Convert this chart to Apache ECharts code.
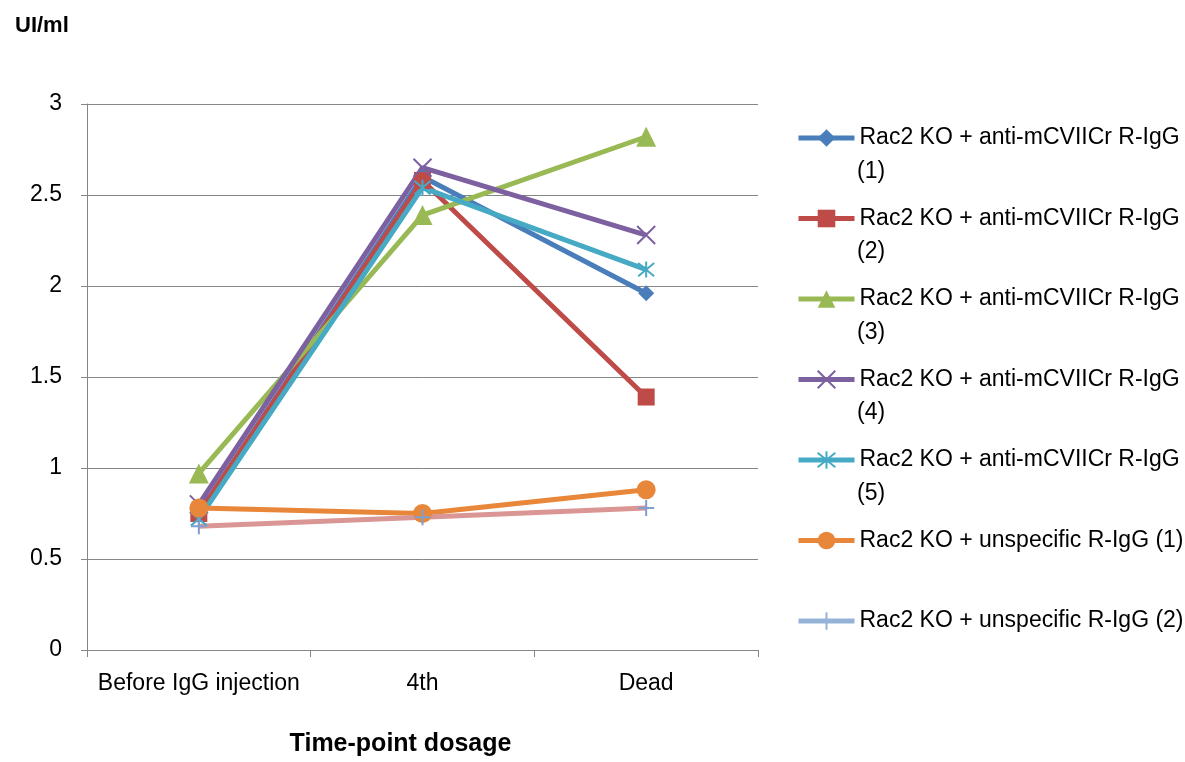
<!DOCTYPE html>
<html><head><meta charset="utf-8">
<script src="https://cdn.jsdelivr.net/npm/echarts@6/dist/echarts.min.js"></script>
<style>html,body{margin:0;padding:0;background:#fff}#c{width:1185px;height:762px}</style>
</head><body><div id="c"></div>
<script>
const categories = ["Before IgG injection", "4th", "Dead"];
const seriesNames = [
  "Rac2 KO + anti-mCVIICr R-IgG (1)",
  "Rac2 KO + anti-mCVIICr R-IgG (2)",
  "Rac2 KO + anti-mCVIICr R-IgG (3)",
  "Rac2 KO + anti-mCVIICr R-IgG (4)",
  "Rac2 KO + anti-mCVIICr R-IgG (5)",
  "Rac2 KO + unspecific R-IgG (1)",
  "Rac2 KO + unspecific R-IgG (2)"
];
const anti1 = [0.75, 2.60, 1.96];
const anti2 = [0.75, 2.58, 1.39];
const anti3 = [0.97, 2.39, 2.82];
const anti4 = [0.80, 2.65, 2.28];
const anti5 = [0.72, 2.54, 2.09];
const unspec1 = [0.78, 0.75, 0.88];
const unspec2 = [0.68, 0.73, 0.78];
const yTicks = [0, 0.5, 1, 1.5, 2, 2.5, 3];

const FONT = "Liberation Sans";
const FS = 23;
const values = [anti1, anti2, anti3, anti4, anti5, unspec1, unspec2];
const colors = ["#4A7EBB", "#BE4B48", "#98B954", "#7D60A0", "#46AAC5", "#E8863A", "#D99694"];
const markerColors = ["#4A7EBB", "#BE4B48", "#98B954", "#7D60A0", "#46AAC5", "#E8863A", "#7F9FD0"];
const symbols = ["diamond", "rect", "triangle",
  "path://M0,0L10,10M10,0L0,10",
  "path://M0,0L10,10M10,0L0,10M5,-1L5,11",
  "circle",
  "path://M5,0L5,10M0,5L10,5"];
const sizes = [16, 17, 20, 18, 16, 19, 16];
const stroked = [false, false, false, true, true, false, true];

const series = values.map((v, i) => ({
  name: seriesNames[i],
  type: 'line',
  data: v,
  symbol: symbols[i],
  symbolSize: sizes[i],
  showSymbol: true,
  lineStyle: { color: colors[i], width: 5 },
  itemStyle: stroked[i]
    ? { color: markerColors[i], borderColor: markerColors[i], borderWidth: 2 }
    : { color: markerColors[i], borderWidth: 0 },
  emphasis: { disabled: true },
  animation: false
}));

const legendData = seriesNames.map((n, i) => i === 6
  ? { name: n, lineStyle: { color: "#95B3D7", width: 5 }, itemStyle: { color: "#95B3D7", borderColor: "#95B3D7" } }
  : { name: n });

// legend layout
const LEG_FIRST = 138, LEG_STEP = 80.5, LEG_LH = 28;
const splitName = n => {
  const m = n.match(/^(.*R-IgG) (\(\d\))$/);
  return (n.indexOf('anti') >= 0 && m) ? [m[1], m[2]] : [n, null];
};
const secondLines = [];
seriesNames.forEach((n, i) => {
  const parts = splitName(n);
  if (parts[1]) {
    secondLines.push({
      type: 'text', left: 857, top: LEG_FIRST + LEG_STEP * i + 33 - 11,
      style: { text: parts[1], font: FS + 'px "' + FONT + '"', fill: '#000' }
    });
  }
});

const chart = echarts.init(document.getElementById('c'));
chart.setOption({
  backgroundColor: '#fff',
  animation: false,
  title: {
    text: 'UI/ml', left: 10, top: 10,
    textStyle: { fontFamily: FONT, fontSize: 22, fontWeight: 'bold', color: '#000' }
  },
  grid: { left: 87, right: 427, top: 104, bottom: 111, containLabel: false },
  xAxis: {
    type: 'category',
    data: categories,
    boundaryGap: true,
    name: 'Time-point dosage',
    nameLocation: 'middle',
    nameGap: 82,
    nameTextStyle: { fontFamily: FONT, fontSize: 25, fontWeight: 'bold', color: '#000', padding: [0, 44, 0, 0] },
    axisLine: { lineStyle: { color: '#868686', width: 1 } },
    axisTick: { show: true, length: 7, interval: 0, alignWithLabel: false, lineStyle: { color: '#868686' } },
    axisLabel: { fontFamily: FONT, fontSize: FS, color: '#000', margin: 22, interval: 0, hideOverlap: false }
  },
  yAxis: {
    type: 'value',
    min: 0, max: 3, interval: 0.5,
    axisLine: { show: true, lineStyle: { color: '#868686', width: 1 } },
    axisTick: { show: true, length: 6, lineStyle: { color: '#868686' } },
    splitLine: { lineStyle: { color: '#868686', width: 1 } },
    axisLabel: {
      fontFamily: FONT, fontSize: FS, color: '#000', margin: 25,
      formatter: v => yTicks.includes(v) ? String(v) : ''
    }
  },
  legend: {
    orient: 'vertical',
    left: 796, top: LEG_FIRST - LEG_LH / 2,
    padding: 0,
    itemWidth: 56, itemHeight: 22,
    itemGap: LEG_STEP - LEG_LH,
    data: legendData,
    selectedMode: false,
    lineStyle: { width: 5 },
    formatter: name => splitName(name)[0],
    textStyle: { fontFamily: FONT, fontSize: FS, color: '#000', lineHeight: LEG_LH }
  },
  graphic: secondLines,
  series: series
});
</script></body></html>
